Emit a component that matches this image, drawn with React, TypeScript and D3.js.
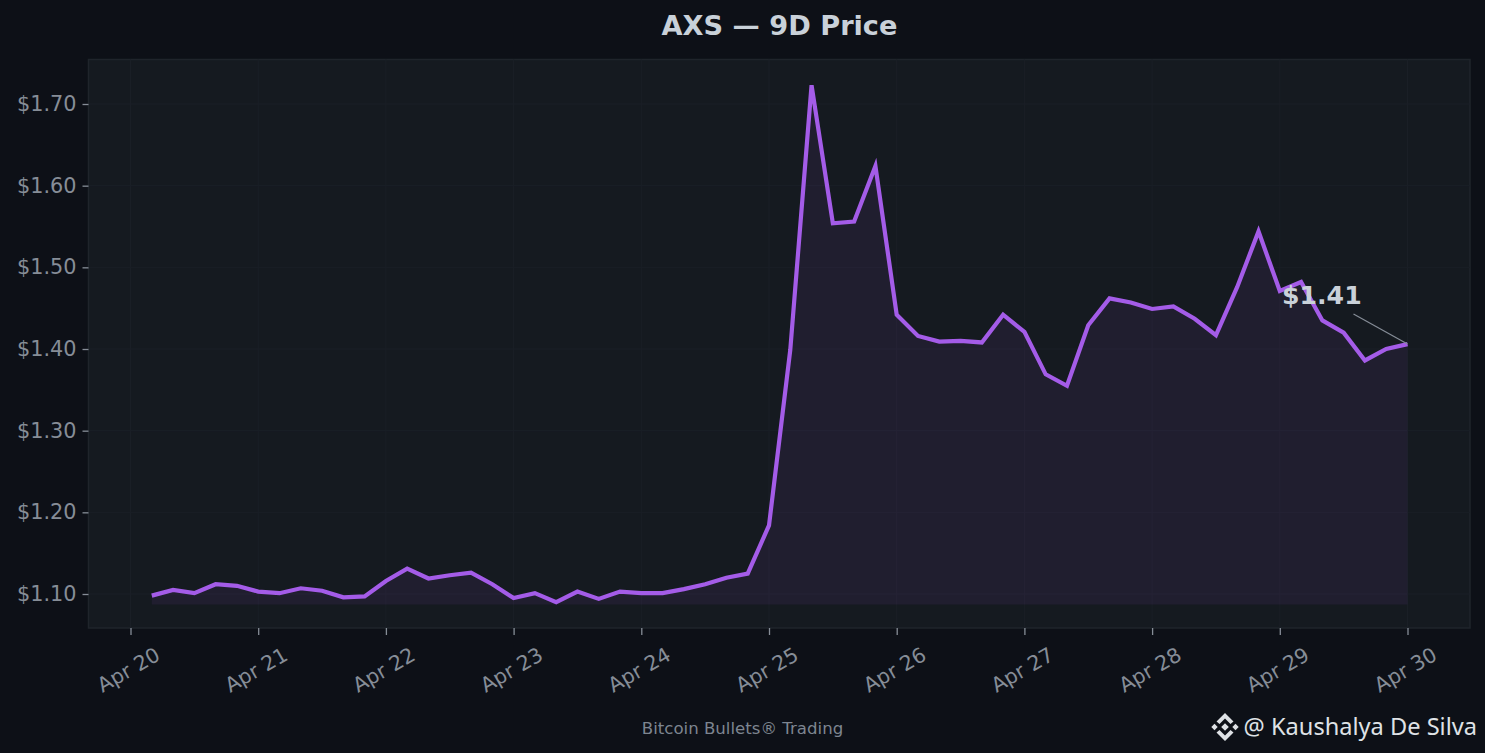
import * as d3 from "d3";
import { useEffect, useRef } from "react";

const width = 1485;
const height = 753;
const font = "'DejaVu Sans', sans-serif";

// 4-hourly closes, first one is Apr 20 04:00
const prices = [
  1.098, 1.105, 1.101, 1.112, 1.11, 1.103, 1.101, 1.107, 1.104, 1.096,
  1.097, 1.116, 1.131, 1.119, 1.123, 1.126, 1.112, 1.095, 1.101, 1.09,
  1.103, 1.094, 1.103, 1.101, 1.101, 1.106, 1.112, 1.12, 1.125, 1.184,
  1.399, 1.723, 1.554, 1.556, 1.624, 1.442, 1.416, 1.409, 1.41, 1.408,
  1.442, 1.421, 1.369, 1.355, 1.429, 1.462, 1.457, 1.449, 1.452, 1.437,
  1.417, 1.476, 1.544, 1.471, 1.482, 1.435, 1.42, 1.386, 1.4, 1.406,
];
const startDate = new Date(Date.UTC(2026, 3, 20, 4));
const xTickDays = [20, 21, 22, 23, 24, 25, 26, 27, 28, 29, 30];
const yTicks = [1.1, 1.2, 1.3, 1.4, 1.5, 1.6, 1.7];
const baseline = 1.087;
const lastLabel = "$1.41";

const title = "AXS \u2014 9D Price";
const footer = "Bitcoin Bullets\u00ae Trading";
const credit = "@ Kaushalya De Silva";

const colors = {
  bg: "#0d1017",
  panel: "#151a20",
  grid: "#1a1f26",
  spine: "#1f242b",
  tick: "#868d97",
  title: "#c9d1d9",
  line: "#a45ce8",
};

const panel = { left: 88.5, right: 1470, top: 59.5, bottom: 628 };

const App = () => {
  const ref = useRef<SVGSVGElement>(null);

  useEffect(() => {
    const svg = d3.select(ref.current);
    svg.selectAll("*").remove();

    const dates = prices.map((_, i) => d3.utcHour.offset(startDate, i * 4));
    const data = prices.map((value, i) => ({ date: dates[i], value }));
    const tickDates = xTickDays.map((d) => new Date(Date.UTC(2026, 3, d)));

    const x = d3
      .scaleUtc()
      .domain([tickDates[0], tickDates[tickDates.length - 1]])
      .range([130.5, 1407.5]);
    const y = d3.scaleLinear().domain([1.1, 1.7]).range([594, 104]);

    svg.append("rect").attr("width", width).attr("height", height).attr("fill", colors.bg);
    svg
      .append("rect")
      .attr("x", panel.left)
      .attr("y", panel.top)
      .attr("width", panel.right - panel.left)
      .attr("height", panel.bottom - panel.top)
      .attr("fill", colors.panel)
      .attr("stroke", colors.spine)
      .attr("stroke-width", 1.5);

    // grid
    svg
      .append("g")
      .selectAll("line")
      .data(tickDates)
      .join("line")
      .attr("x1", (d) => x(d))
      .attr("x2", (d) => x(d))
      .attr("y1", panel.top)
      .attr("y2", panel.bottom)
      .attr("stroke", colors.grid);
    svg
      .append("g")
      .selectAll("line")
      .data(yTicks)
      .join("line")
      .attr("x1", panel.left)
      .attr("x2", panel.right)
      .attr("y1", (d) => y(d))
      .attr("y2", (d) => y(d))
      .attr("stroke", colors.grid);

    // watermark
    svg
      .append("text")
      .attr("transform", "translate(772,345) rotate(-30)")
      .attr("text-anchor", "middle")
      .attr("dominant-baseline", "middle")
      .attr("font-family", font)
      .attr("font-size", 46)
      .attr("fill", "#ffffff")
      .attr("fill-opacity", 0.012)
      .text(footer);

    const area = d3
      .area<{ date: Date; value: number }>()
      .x((d) => x(d.date))
      .y0(y(baseline))
      .y1((d) => y(d.value));
    const line = d3
      .line<{ date: Date; value: number }>()
      .x((d) => x(d.date))
      .y((d) => y(d.value));

    svg.append("path").datum(data).attr("d", area).attr("fill", colors.line).attr("fill-opacity", 0.08);
    svg
      .append("path")
      .datum(data)
      .attr("d", line)
      .attr("fill", "none")
      .attr("stroke", colors.line)
      .attr("stroke-width", 4.2)
      .attr("stroke-linejoin", "miter");

    // axes
    const xAxis = svg
      .append("g")
      .attr("transform", `translate(0,${panel.bottom})`)
      .call(
        d3
          .axisBottom(x)
          .tickValues(tickDates)
          .tickSize(7)
          .tickFormat((d) => d3.utcFormat("%b %d")(d as Date))
      );
    xAxis.select(".domain").remove();
    xAxis.selectAll(".tick line").attr("stroke", colors.tick).attr("stroke-width", 1.3);
    xAxis
      .selectAll(".tick text")
      .attr("y", 0)
      .attr("dy", 0)
      .attr("transform", "translate(1,48) rotate(-30)")
      .attr("text-anchor", "middle")
      .attr("fill", colors.tick)
      .attr("font-family", font)
      .attr("font-size", 20.5);

    const yAxis = svg
      .append("g")
      .attr("transform", `translate(${panel.left},0)`)
      .call(
        d3
          .axisLeft(y)
          .tickValues(yTicks)
          .tickSize(6)
          .tickPadding(6)
          .tickFormat((d) => `$${(d as number).toFixed(2)}`)
      );
    yAxis.select(".domain").remove();
    yAxis.selectAll(".tick line").attr("stroke", colors.tick).attr("stroke-width", 1.3);
    yAxis
      .selectAll(".tick text")
      .attr("fill", colors.tick)
      .attr("font-family", font)
      .attr("font-size", 20.8);

    // last price note
    const last = data[data.length - 1];
    svg
      .append("line")
      .attr("x1", x(last.date) - 54)
      .attr("y1", y(last.value) - 30)
      .attr("x2", x(last.date))
      .attr("y2", y(last.value))
      .attr("stroke", colors.tick)
      .attr("stroke-width", 1.2);
    svg
      .append("text")
      .attr("x", x(last.date) - 125.5)
      .attr("y", y(last.value) - 40)
      .attr("font-family", font)
      .attr("font-weight", "bold")
      .attr("font-size", 25.2)
      .attr("fill", colors.title)
      .text(lastLabel);

    svg
      .append("text")
      .attr("x", 779.5)
      .attr("y", 35)
      .attr("text-anchor", "middle")
      .attr("font-family", font)
      .attr("font-weight", "bold")
      .attr("font-size", 27.2)
      .attr("fill", colors.title)
      .text(title);

    svg
      .append("text")
      .attr("x", 742.5)
      .attr("y", 734)
      .attr("text-anchor", "middle")
      .attr("font-family", font)
      .attr("font-size", 16.6)
      .attr("fill", "#7d8590")
      .text(footer);

    // credit with the little diamond logo
    const logo = svg.append("g").attr("transform", "translate(1225,727)").attr("fill", "#dfe2e6");
    const diamond = (cx: number, cy: number, r: number) =>
      `M${cx - r},${cy}L${cx},${cy - r}L${cx + r},${cy}L${cx},${cy + r}Z`;
    logo.append("path").attr("d", diamond(0, 0, 3.8));
    logo.append("path").attr("d", diamond(-10.5, 0, 3.2));
    logo.append("path").attr("d", diamond(10.5, 0, 3.2));
    logo.append("path").attr("d", "M0,-14L8.5,-5.5L5.5,-3L0,-8.5L-5.5,-3L-8.5,-5.5Z");
    logo.append("path").attr("d", "M0,14L8.5,5.5L5.5,3L0,8.5L-5.5,3L-8.5,5.5Z");

    svg
      .append("text")
      .attr("x", 1477)
      .attr("y", 735)
      .attr("text-anchor", "end")
      .attr("font-family", "'Noto Sans', sans-serif")
      .attr("font-size", 23.6)
      .attr("fill", "#dfe2e6")
      .text(credit);
  }, []);

  return <svg ref={ref} width={width} height={height} style={{ position: "absolute", left: 0, top: 0 }} />;
};

export default App;
